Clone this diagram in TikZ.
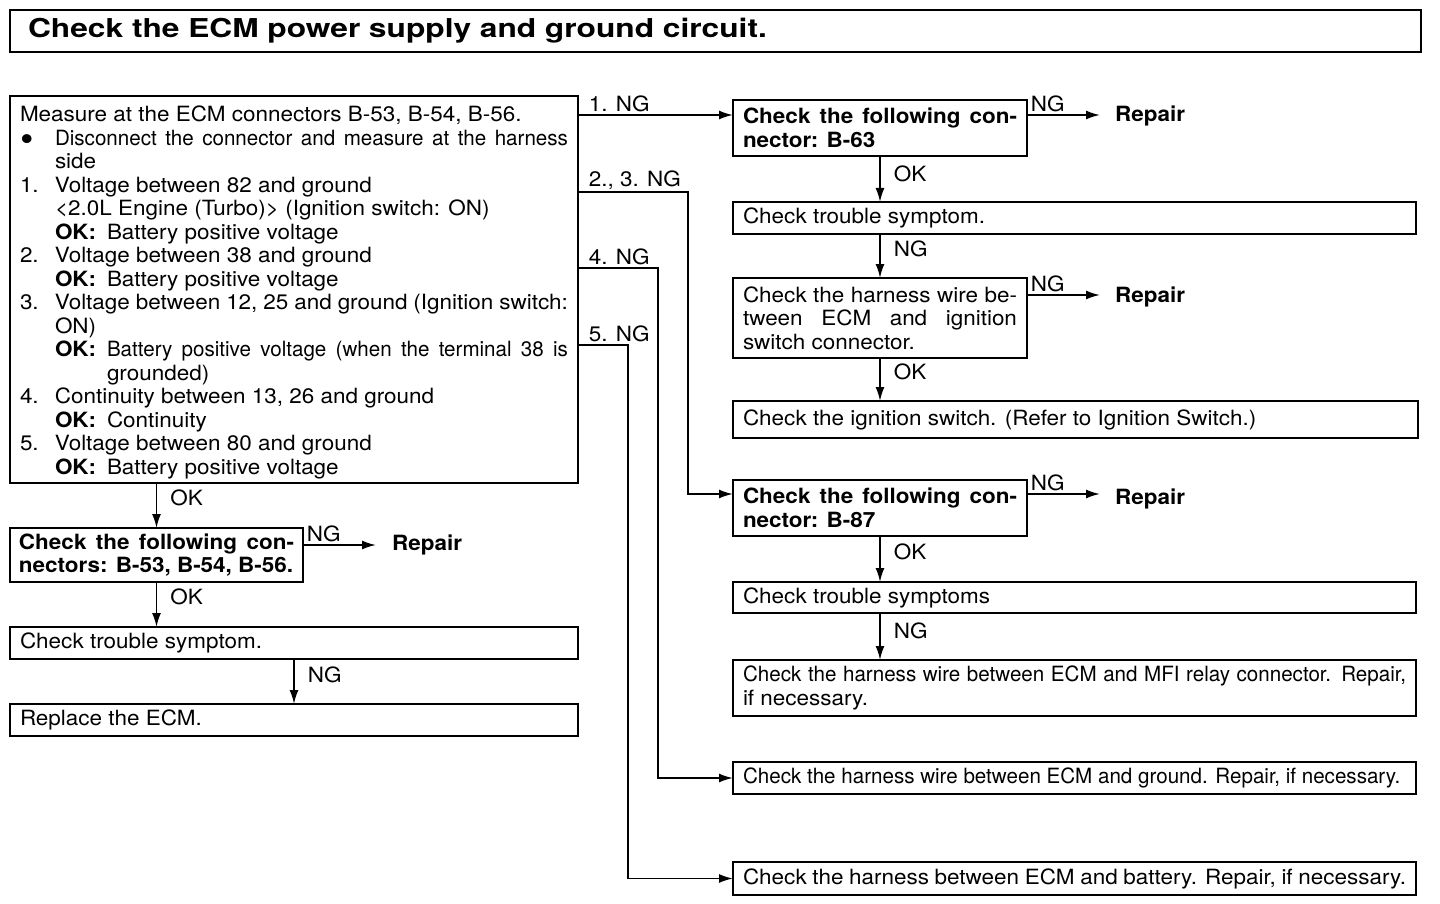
\documentclass[tikz,border=0pt]{standalone}
\usepackage{fontspec}
\setmainfont{TeX Gyre Heros}[FakeStretch=1.07]
\newfontfamily\narrow{TeX Gyre Heros}[FakeStretch=0.98]
\newfontfamily\titlefont{TeX Gyre Heros}[FakeStretch=1.22]
\usetikzlibrary{arrows.meta,calc}
\newcommand\fs{\fontsize{21}{23.5}\selectfont}
\newcommand\mi[2]{\par\noindent\hangindent=35pt\hangafter=1\makebox[35pt][l]{#1}#2}
\newcommand\okl[1]{\par\noindent\hangindent=87pt\hangafter=1\hspace*{35pt}\makebox[52pt][l]{\textbf{OK:}}#1}
\newcommand\bigdot{\smash{\raisebox{-6pt}{\fontsize{36}{20}\selectfont\textbullet}}}
\begin{document}
\begin{tikzpicture}[x=1pt,y=-1pt,
  bx/.style={draw,line width=1.8pt,outer sep=0pt,anchor=north west,inner xsep=10pt,inner ysep=2pt,font=\fs,align=justify},
  arr/.style={line width=1.8pt,-{Latex[length=14pt,width=9pt]}},
  lbl/.style={font=\fs,inner sep=0pt},
  rep/.style={font=\fs\bfseries,inner sep=0pt,anchor=west},
]
\useasboundingbox[fill=white] (0,0) rectangle (1440,904);
\node[draw,line width=2.6pt,outer sep=0pt,anchor=north west,minimum width=1411pt,minimum height=42pt,inner xsep=18pt,text width=1375pt,align=left,font=\fontsize{26}{30}\titlefont\bfseries] (T) at (10,10) {Check\ the\ ECM\ power\ supply\ and\ ground\ circuit.};
% main box
\node[bx,inner ysep=0pt,minimum width=568pt,minimum height=387pt,text width=548pt] (M) at (10,96) {%
\noindent\rule{0pt}{22pt}Measure at the ECM connectors B-53, B-54, B-56.
\mi{\bigdot}{{\narrow Disconnect the connector and measure at the harness}\linebreak side}
\mi{1.}{Voltage between 82 and ground\newline \textless 2.0L Engine (Turbo)\textgreater{} (Ignition switch: ON)}
\okl{Battery positive voltage}
\mi{2.}{Voltage between 38 and ground}
\okl{Battery positive voltage}
\mi{3.}{Voltage between 12, 25 and ground (Ignition switch:\linebreak ON)}
\okl{{\narrow Battery positive voltage (when the terminal 38 is}\linebreak grounded)}
\mi{4.}{Continuity between 13, 26 and ground}
\okl{Continuity}
\mi{5.}{Voltage between 80 and ground}
\okl{Battery positive voltage}};
% left column
\node[bx,minimum width=293pt,minimum height=54pt,text width=275pt,inner xsep=9pt,font=\fs\bfseries] (L1) at (10,528) {Check the following con-\linebreak nectors: B-53, B-54, B-56.};
\node[bx,minimum width=568pt,minimum height=32pt,text width=548pt] (L2) at (10,627) {Check trouble symptom.};
\node[bx,minimum width=568pt,minimum height=32pt,text width=548pt] (L3) at (10,704) {Replace the ECM.};
\node[rep] (R0) at (392,545) {Repair};
% right column
\node[bx,minimum width=294pt,minimum height=56pt,text width=274pt,font=\fs\bfseries] (B1) at (733,100) {Check the following con-\linebreak nector: B-63};
\node[bx,minimum width=683pt,minimum height=32pt,text width=663pt] (B2) at (733,202) {Check trouble symptom.};
\node[bx,minimum width=294pt,minimum height=80pt,text width=274pt] (B3) at (733,278) {Check the harness wire be-\linebreak tween ECM and ignition\linebreak switch connector.};
\node[bx,minimum width=685pt,minimum height=37pt,text width=665pt] (B4) at (733,401) {Check the ignition switch. (Refer to Ignition Switch.)};
\node[bx,minimum width=294pt,minimum height=56pt,text width=274pt,font=\fs\bfseries] (B5) at (733,480) {Check the following con-\linebreak nector: B-87};
\node[bx,minimum width=683pt,minimum height=31pt,text width=663pt] (B6) at (733,582) {Check trouble symptoms};
\node[bx,minimum width=683pt,minimum height=56pt,text width=663pt] (B7) at (733,660) {{\narrow Check the harness wire between ECM and MFI relay connector. Repair,}\linebreak if necessary.};
\node[bx,minimum width=683pt,minimum height=32pt,text width=663pt] (B8) at (733,762) {\narrow Check the harness wire between ECM and ground. Repair, if necessary.};
\node[bx,minimum width=683pt,minimum height=33pt,text width=663pt] (B9) at (733,862) {Check the harness between ECM and battery. Repair, if necessary.};
\node[rep] (R1) at (1115,116) {Repair};
\node[rep] (R3) at (1115,297) {Repair};
\node[rep] (R5) at (1115,499) {Repair};
% coordinates
\coordinate (k1) at (578,115);
\coordinate (k23) at (688,192);
\coordinate (k4) at (658,268);
\coordinate (k5) at (628,345);
% connectors from main box
\draw[arr] (M.east |- k1) -- node[lbl,pos=0,anchor=south west,xshift=10pt,yshift=2pt]{1. NG} (B1.west |- k1);
\draw[arr] (M.east |- k23) -- node[lbl,pos=0,anchor=south west,xshift=10pt,yshift=2pt]{2., 3. NG} (k23) |- (B5.west |- 0,494);
\draw[arr] (M.east |- k4) -- node[lbl,pos=0,anchor=south west,xshift=10pt,yshift=2pt]{4. NG} (k4) |- (B8.west);
\draw[arr] (M.east |- k5) -- node[lbl,pos=0,anchor=south west,xshift=10pt,yshift=2pt]{5. NG} (k5) |- (B9.west);
% left column arrows
\draw[arr] (L1.north |- M.south) -- node[lbl,pos=0.33,anchor=west,xshift=13pt]{OK} (L1.north);
\draw[arr] (L1.south) -- node[lbl,pos=0.33,anchor=west,xshift=13pt]{OK} (L1.south |- L2.north);
\draw[arr] (L2.south) -- node[lbl,pos=0.35,anchor=west,xshift=13pt]{NG} (L2.south |- L3.north);
\draw[arr,shorten >=16pt] (L1.east |- R0.west) -- node[lbl,pos=0,anchor=south west,xshift=3pt,yshift=2pt]{NG} (R0.west);
% right column arrows
\draw[arr,shorten >=15pt] (B1.east |- 0,115) -- node[lbl,pos=0,anchor=south west,xshift=3pt,yshift=2pt]{NG} (R1.west |- 0,115);
\draw[arr] (B1.south) -- node[lbl,pos=0.38,anchor=west,xshift=13pt]{OK} (B1.south |- B2.north);
\draw[arr] (B1.south |- B2.south) -- node[lbl,pos=0.33,anchor=west,xshift=13pt]{NG} (B3.north);
\draw[arr,shorten >=15pt] (B3.east |- 0,295) -- node[lbl,pos=0,anchor=south west,xshift=3pt,yshift=2pt]{NG} (R3.west |- 0,295);
\draw[arr] (B3.south) -- node[lbl,pos=0.33,anchor=west,xshift=13pt]{OK} (B3.south |- B4.north);
\draw[arr,shorten >=15pt] (B5.east |- 0,494) -- node[lbl,pos=0,anchor=south west,xshift=3pt,yshift=2pt]{NG} (R5.west |- 0,494);
\draw[arr] (B5.south) -- node[lbl,pos=0.35,anchor=west,xshift=13pt]{OK} (B5.south |- B6.north);
\draw[arr] (B5.south |- B6.south) -- node[lbl,pos=0.38,anchor=west,xshift=13pt]{NG} (B5.south |- B7.north);
\end{tikzpicture}
\end{document}
